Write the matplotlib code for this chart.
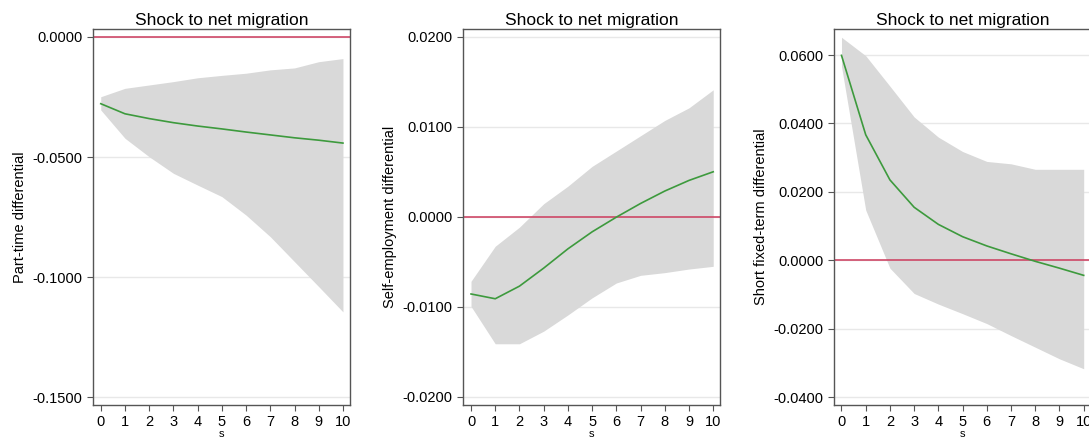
import numpy as np
import matplotlib.pyplot as plt

steps = list(range(11))

# impulse responses and confidence bands for each outcome
pt_irf = [-0.0278, -0.0320, -0.0340, -0.0357, -0.0371, -0.0383, -0.0396, -0.0408, -0.0420, -0.0430, -0.0442]
pt_upper = [-0.0249, -0.0214, -0.0200, -0.0186, -0.0170, -0.0160, -0.0151, -0.0137, -0.0129, -0.0103, -0.0090]
pt_lower = [-0.0304, -0.0422, -0.0499, -0.0568, -0.0617, -0.0665, -0.0742, -0.0832, -0.0936, -0.1040, -0.1145]

se_irf = [-0.00857, -0.0091, -0.0077, -0.0057, -0.00356, -0.00167, -0.00004, 0.00148, 0.00286, 0.00404, 0.0050]
se_upper = [-0.00716, -0.00327, -0.00115, 0.00145, 0.0034, 0.0056, 0.0073, 0.0090, 0.0107, 0.0121, 0.0141]
se_lower = [-0.00994, -0.0141, -0.0141, -0.0127, -0.0109, -0.0090, -0.00735, -0.0065, -0.0062, -0.0058, -0.0055]

sft_irf = [0.0599, 0.0367, 0.0235, 0.0155, 0.0105, 0.0069, 0.0042, 0.0019, -0.0003, -0.0023, -0.0044]
sft_upper = [0.0652, 0.0598, 0.0509, 0.0419, 0.0360, 0.0318, 0.0289, 0.0282, 0.0266, 0.0266, 0.0266]
sft_lower = [0.0567, 0.0147, -0.0023, -0.0097, -0.0128, -0.0156, -0.0185, -0.0220, -0.0254, -0.0288, -0.0317]

panels = [
    ("Part-time differential", pt_irf, pt_lower, pt_upper,
     [0.0, -0.05, -0.10, -0.15], (-0.1533, 0.0033), 0.0854),
    ("Self-employment differential", se_irf, se_lower, se_upper,
     [0.02, 0.01, 0.0, -0.01, -0.02], (-0.0209, 0.02085), 0.4254),
    ("Short fixed-term differential", sft_irf, sft_lower, sft_upper,
     [0.06, 0.04, 0.02, 0.0, -0.02, -0.04], (-0.0423, 0.0676), 0.7656),
]

plt.rcParams['font.family'] = ['Liberation Sans', 'DejaVu Sans']

fig = plt.figure(figsize=(10.89, 4.44), dpi=100)

for i, (ylabel, irf, lo, hi, yticks, ylim, left) in enumerate(panels):
    ax = fig.add_axes([left, 0.0878, 0.2362, 0.8468])
    ax.fill_between(steps, lo, hi, color='#d9d9d9', linewidth=0, zorder=1)
    ax.axhline(0, color='#cc3a5c', linewidth=1.1, zorder=2)
    ax.plot(steps, irf, color='#3d9a3d', linewidth=1.2, zorder=3)
    for t in yticks:
        ax.axhline(t, color='#e8e8e8', linewidth=1.0, zorder=0)
    ax.set_xlim(-0.32, 10.3)
    ax.set_ylim(*ylim)
    ax.set_xticks(steps)
    ax.set_yticks(yticks)
    ax.set_yticklabels(['%.4f' % t for t in yticks])
    ax.set_title("Shock to net migration", fontsize=12.5, pad=3)
    ax.set_ylabel(ylabel, fontsize=10.5, labelpad=4)
    ax.set_xlabel("s", fontsize=8, labelpad=0)
    ax.tick_params(axis='both', direction='out', length=4, width=0.8,
                   color='#555555', labelsize=10.5)
    for sp in ax.spines.values():
        sp.set_color('#555555')
        sp.set_linewidth(1.0)
    # last panel runs off the right edge of the figure
    if i == 2:
        ax.spines['right'].set_visible(False)

fig.savefig("out.png", dpi=100, facecolor='white')
